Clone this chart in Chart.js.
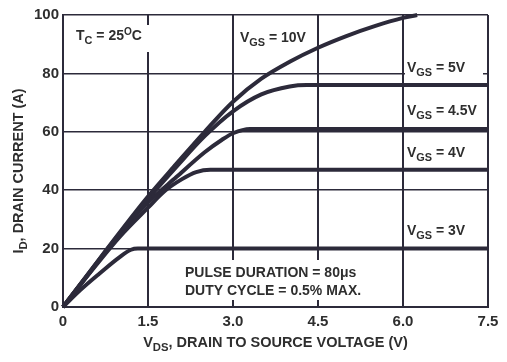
<!DOCTYPE html>
<html>
<head>
<meta charset="utf-8">
<script src="https://cdn.jsdelivr.net/npm/chart.js@4.4.1/dist/chart.umd.min.js"></script>
<style>
html,body{margin:0;padding:0;background:#fff;}
#wrap{width:507px;height:362px;}
</style>
</head>
<body>
<div id="wrap"><canvas id="c" width="507" height="362"></canvas></div>
<script>
// ---- data ----
const xTicks = [0, 1.5, 3.0, 4.5, 6.0, 7.5];
const yTicks = [0, 20, 40, 60, 80, 100];

const vds10 = [0, 0.5, 1.0, 1.5, 2.0, 2.5, 3.0, 3.5, 4.0, 4.5, 5.0, 5.5, 6.0, 6.25];
const id10  = [0, 12.8, 25.5, 37.8, 49, 60, 70.3, 78.2, 84, 88.8, 92.8, 96.2, 99, 100];

const vds5 = [0, 0.5, 1.0, 1.5, 2.0, 2.5, 3.0, 3.5, 4.0, 4.3, 7.5];
const id5  = [0, 12.7, 25.2, 37, 48, 58.5, 67, 72.8, 75.5, 76, 76];

const vds45 = [0, 0.5, 1.0, 1.5, 2.0, 2.5, 2.8, 3.0, 3.3, 7.5];
const id45  = [0, 12.5, 25, 35.8, 44.5, 53, 57.2, 59.5, 61, 61];

const vds4 = [0, 0.5, 1.0, 1.5, 1.8, 2.1, 2.35, 2.6, 7.5];
const id4  = [0, 12.3, 24, 34, 39.8, 43.8, 46.2, 47, 47];

const vds3 = [0, 0.3, 0.64, 1.0, 1.2, 1.32, 7.5];
const id3  = [0, 5.7, 11.4, 17.1, 19.6, 20, 20];

const seriesNames = ['VGS = 10V', 'VGS = 5V', 'VGS = 4.5V', 'VGS = 4V', 'VGS = 3V'];

// ---- styling ----
const INK = '#2c2a3a';
const TXT = '#2e2e2e';
const FONT = '"Liberation Sans", Arial, sans-serif';

function pts(xs, ys){ return xs.map((x,i)=>({x:x, y:ys[i]})); }

function drawRich(ctx, x, y, parts, size, align){
  const spec = parts.map(p=>{
    const s = p[1]==='n' ? size : (p[1]==='sub' ? size*0.78 : size*0.72);
    const dy = p[1]==='n' ? 0 : (p[1]==='sub' ? size*0.25 : -size*0.38);
    ctx.font = 'bold ' + s + 'px ' + FONT;
    return {t:p[0], s:s, dy:dy, w:ctx.measureText(p[0]).width};
  });
  const total = spec.reduce((a,b)=>a+b.w,0);
  let cx = align==='center' ? x - total/2 : x;
  ctx.textAlign = 'left';
  ctx.textBaseline = 'alphabetic';
  spec.forEach(p=>{
    ctx.font = 'bold ' + p.s + 'px ' + FONT;
    ctx.fillText(p.t, cx, y + p.dy);
    cx += p.w;
  });
  return total;
}

const annotPlugin = {
  id: 'annot',
  beforeDatasetsDraw(chart){
    const ctx = chart.ctx;
    ctx.save();
    ctx.fillStyle = '#fff';
    ctx.fillRect(70, 25, 84, 27);      // Tc label
    ctx.fillRect(237, 26, 80, 22);     // 10V
    ctx.fillRect(405, 58, 78, 20);     // 5V
    ctx.fillRect(180, 260, 195, 40);   // pulse note
    ctx.fillStyle = TXT;
    drawRich(ctx, 76, 40, [['T','n'],['C','sub'],[' = 25','n'],['O','sup'],['C','n']], 14);
    drawRich(ctx, 240, 42, [['V','n'],['GS','sub'],[' = 10V','n']], 14);
    drawRich(ctx, 407, 72, [['V','n'],['GS','sub'],[' = 5V','n']], 14);
    drawRich(ctx, 407, 115, [['V','n'],['GS','sub'],[' = 4.5V','n']], 14);
    drawRich(ctx, 407, 157, [['V','n'],['GS','sub'],[' = 4V','n']], 14);
    drawRich(ctx, 407, 235, [['V','n'],['GS','sub'],[' = 3V','n']], 14);
    drawRich(ctx, 185, 277, [['PULSE DURATION = 80\u03BCs','n']], 14);
    drawRich(ctx, 185, 295, [['DUTY CYCLE = 0.5% MAX.','n']], 14);
    ctx.restore();
  },
  afterDraw(chart){
    const ctx = chart.ctx;
    const a = chart.chartArea;
    ctx.save();
    ctx.fillStyle = TXT;
    drawRich(ctx, (a.left + a.right)/2, 347, [['V','n'],['DS','sub'],[', DRAIN TO SOURCE VOLTAGE (V)','n']], 14.5, 'center');
    ctx.translate(23, (a.top + a.bottom)/2 + 10);
    ctx.rotate(-Math.PI/2);
    drawRich(ctx, 0, 0, [['I','n'],['D','sub'],[', DRAIN CURRENT (A)','n']], 14.5, 'center');
    ctx.restore();
  }
};

const srcX = [vds10, vds5, vds45, vds4, vds3];
const srcY = [id10, id5, id45, id4, id3];

new Chart(document.getElementById('c'), {
  type: 'line',
  data: {
    datasets: seriesNames.map((n,i)=>({
      label: n,
      data: pts(srcX[i], srcY[i]),
      borderColor: INK,
      borderWidth: 4,
      pointRadius: 0,
      fill: false,
      cubicInterpolationMode: 'monotone',
      clip: 4
    }))
  },
  options: {
    responsive: false,
    animation: false,
    events: [],
    layout: { padding: { top: 15, right: 19, left: 0, bottom: 0 } },
    plugins: { legend: { display: false }, tooltip: { enabled: false } },
    scales: {
      x: {
        type: 'linear',
        min: 0, max: 7.5,
        afterBuildTicks(s){ s.ticks = xTicks.map(v=>({value:v})); },
        afterFit(s){ s.height = 55; },
        ticks: {
          color: TXT, padding: 6,
          font: { family: FONT, size: 15, weight: 'bold' },
          callback: v => v === 0 ? '0' : v.toFixed(1),
          maxRotation: 0
        },
        grid: { color: INK, lineWidth: 2, drawTicks: false },
        border: { display: true, color: INK, width: 2 }
      },
      y: {
        type: 'linear',
        min: 0, max: 100,
        afterBuildTicks(s){ s.ticks = yTicks.map(v=>({value:v})); },
        afterFit(s){ s.width = 63; },
        ticks: {
          color: TXT, padding: 4,
          font: { family: FONT, size: 15, weight: 'bold' },
          callback: v => String(v)
        },
        grid: { color: INK, lineWidth: 1.5, drawTicks: false },
        border: { display: true, color: INK, width: 2 }
      }
    }
  },
  plugins: [annotPlugin]
});
</script>
</body>
</html>
